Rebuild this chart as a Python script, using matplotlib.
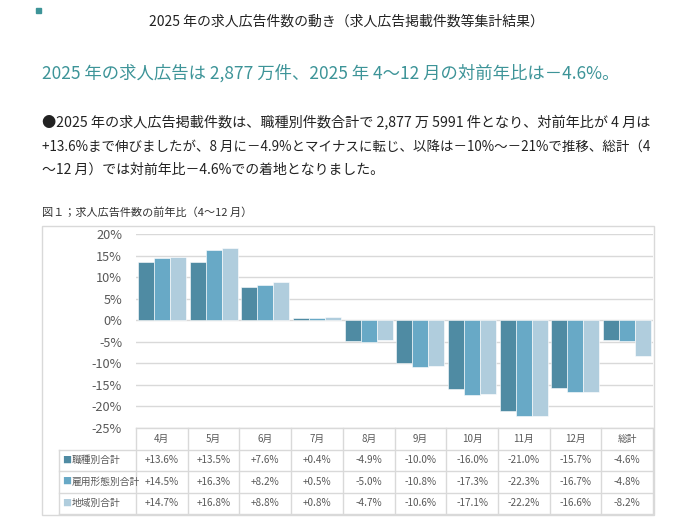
import matplotlib
matplotlib.use('Agg')
from matplotlib import pyplot as plt
from matplotlib.patches import Rectangle
import numpy as np

plt.rcParams['font.family'] = ['Noto Sans CJK JP', 'DejaVu Sans']

# data
months = ['4月', '5月', '6月', '7月', '8月', '9月', '10月', '11月', '12月', '総計']
series_names = ['職種別合計', '雇用形態別合計', '地域別合計']
shokushu = [13.6, 13.5, 7.6, 0.4, -4.9, -10.0, -16.0, -21.0, -15.7, -4.6]
koyou = [14.5, 16.3, 8.2, 0.5, -5.0, -10.8, -17.3, -22.3, -16.7, -4.8]
chiiki = [14.7, 16.8, 8.8, 0.8, -4.7, -10.6, -17.1, -22.2, -16.6, -8.2]
y_ticks = [20, 15, 10, 5, 0, -5, -10, -15, -20, -25]

colors = ['#4f8ba3', '#68a9c6', '#b0cddd']
teal = '#3d9498'
grid_c = '#d9d9d9'
text_c = '#595959'

W, H = 680, 532
fig = plt.figure(figsize=(W / 100, H / 100), dpi=100)


def fx(px):
    return px / W


def fy(py):
    return 1 - py / H


# header texts
fig.patches.append(Rectangle((fx(36), fy(13)), fx(5), 5 / H, transform=fig.transFigure,
                             color=teal, zorder=5))
fig.text(fx(346), fy(22), '2025 年の求人広告件数の動き（求人広告掲載件数等集計結果）',
         ha='center', va='center', fontsize=10, color='#222222')
fig.text(fx(42), fy(73), '2025 年の求人広告は 2,877 万件、2025 年 4～12 月の対前年比は－4.6%。',
         ha='left', va='center', fontsize=12.5, color=teal)
para = ['●2025 年の求人広告掲載件数は、職種別件数合計で 2,877 万 5991 件となり、対前年比が 4 月は',
        '+13.6%まで伸びましたが、8 月に－4.9%とマイナスに転じ、以降は－10%～－21%で推移、総計（4',
        '～12 月）では対前年比－4.6%での着地となりました。']
para_sizes = [10.2, 9.7, 10.0]
for i, line in enumerate(para):
    fig.text(fx(42), fy(123 + i * 23.5), line, ha='left', va='center', fontsize=para_sizes[i],
             color='#222222')
fig.text(fx(42), fy(213), '図１；求人広告件数の前年比（4～12 月）', ha='left', va='center',
         fontsize=8, color='#333333')

# outer frame of the chart
fig.patches.append(Rectangle((fx(42), fy(515)), fx(654 - 42), (515 - 226) / H,
                             transform=fig.transFigure, fill=False, edgecolor=grid_c, lw=1))

# bar chart
ax = fig.add_axes([fx(136), fy(428), fx(653 - 136), (428 - 234) / H])
x = np.arange(len(months))
bw = 0.31
for k, vals in enumerate([shokushu, koyou, chiiki]):
    ax.bar(x + (k - 1) * bw, vals, width=bw, color=colors[k], edgecolor='white', linewidth=0.4,
           zorder=3)
ax.set_xlim(-0.5, len(months) - 0.5)
ax.set_ylim(-25, 20)
ax.set_yticks(y_ticks)
ax.set_yticklabels([f'{v}%' for v in y_ticks], fontsize=9.2, color=text_c)
ax.tick_params(axis='y', length=0, pad=10)
ax.set_xticks([])
ax.yaxis.grid(True, color=grid_c, lw=1)
ax.set_axisbelow(True)
for s in ax.spines.values():
    s.set_visible(False)

# data table under the chart, sharing the bar chart x scale
tax = fig.add_axes([fx(136), fy(514), fx(653 - 136), (514 - 428) / H], sharex=ax)
tax.set_ylim(4, 0)
tax.axis('off')
xl = -0.5 - 77 / 51.7
xr = len(months) - 0.5
lkw = dict(color=grid_c, lw=1, clip_on=False)
tax.plot([-0.5, xr], [0, 0], **lkw)
for r in range(1, 5):
    tax.plot([xl, xr], [r, r], **lkw)
for c in range(len(months) + 1):
    tax.plot([c - 0.5, c - 0.5], [0, 4], **lkw)
tax.plot([xl, xl], [1, 4], **lkw)

for c, m in enumerate(months):
    tax.text(c, 0.5, m, ha='center', va='center', fontsize=7, color=text_c, clip_on=False)
for r, (name, vals) in enumerate(zip(series_names, [shokushu, koyou, chiiki])):
    yy = r + 1.5
    tax.text(xl + 0.06, yy, '■', ha='left', va='center', fontsize=6.5, color=colors[r],
             clip_on=False)
    tax.text(xl + 0.24, yy, name, ha='left', va='center', fontsize=7, color=text_c, clip_on=False)
    for c, v in enumerate(vals):
        tax.text(c, yy, f'{v:+.1f}%', ha='center', va='center', fontsize=7.2, color=text_c,
                 clip_on=False)

fig.savefig('out.png', dpi=100)
